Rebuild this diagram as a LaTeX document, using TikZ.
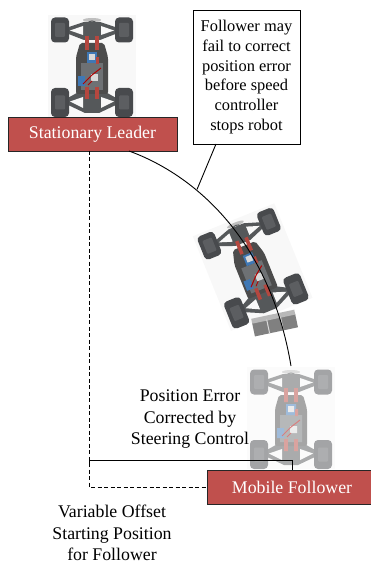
\documentclass[tikz,border=0pt]{standalone}
\usepackage{fontspec}
\setmainfont{Liberation Serif}
\definecolor{LabelRed}{HTML}{C0504D}
\definecolor{TyreGray}{HTML}{484A4D}
\definecolor{HubGray}{HTML}{5C5E61}
\definecolor{ArmGray}{HTML}{55585A}
\definecolor{ChassisGray}{HTML}{6E7174}
\definecolor{ShockRed}{HTML}{B5473F}
\definecolor{MotorBlue}{HTML}{3F78B5}
\definecolor{HaloGray}{HTML}{F8F8F8}
\usetikzlibrary{positioning}
\tikzset{
  % Box styles
  labelbox/.style={rectangle, draw=black!85, line width=0.9pt, fill=LabelRed, text=white, inner sep=0pt, font=\fontsize{17.8}{21}\selectfont, align=center},
  notebox/.style={rectangle, draw=black, line width=0.8pt, fill=white, inner sep=0pt, font=\fontsize{16.4}{19.8}\selectfont, align=center},
  plaintext/.style={inner sep=0pt, font=\fontsize{17.8}{21.5}\selectfont, align=center},
  % Line styles
  pathline/.style={black, line width=0.9pt},
  offsetline/.style={black, line width=1pt, dash pattern=on 4pt off 2.5pt},
  % Car drawn around its centre
  robotcar/.pic={
    \fill[HaloGray] (-44,-52) rectangle (44,50);
    % Axle arms
    \fill[ArmGray] (-26,-39) -- (-8,-45) -- (8,-45) -- (26,-39) -- (26,-34) -- (8,-27) -- (-8,-27) -- (-26,-34) -- cycle;
    \fill[ArmGray] (-26,32) -- (-8,22) -- (8,22) -- (26,32) -- (26,37) -- (7,46) -- (-7,46) -- (-26,37) -- cycle;
    \fill[HaloGray] (-22,-36.5) -- (-9,-41) -- (-9,-32) -- cycle (22,-36.5) -- (9,-41) -- (9,-32) -- cycle;
    \fill[HaloGray] (-22,34.5) -- (-9,30) -- (-9,41) -- cycle (22,34.5) -- (9,30) -- (9,41) -- cycle;
    % Nose
    \fill[black!25] (0,-47) ellipse (9 and 2);
    \draw[ArmGray, line width=1pt] (0,-43.5) ellipse (4 and 2.5);
    % Tyres
    \foreach \tx in {-32,32} {
      \foreach \ty/\th in {-37/12.5,35.5/14.5} {
        \fill[TyreGray, rounded corners=4pt] (\tx-9,\ty-\th) rectangle (\tx+9,\ty+\th);
        \fill[HubGray, rounded corners=1pt] (\tx-5,\ty-7) rectangle (\tx+5,\ty+7);
      }
    }
    % Chassis
    \fill[black!70, rounded corners=2pt] (-12,-24) -- (12,-24) -- (16,-10) -- (16,27) -- (-16,27) -- (-16,-10) -- cycle;
    \fill[ChassisGray] (-11,-4) rectangle (11,23);
    % Shocks
    \foreach \tx in {-5,5} {
      \fill[ShockRed] (\tx-1.8,-31) rectangle (\tx+1.8,-17);
      \fill[ShockRed] (\tx-1.8,20) rectangle (\tx+1.8,32);
    }
    % Motor and wiring
    \fill[MotorBlue] (-5,-15) rectangle (5,-4);
    \fill[white!85!black] (-3,-13) rectangle (3,-7);
    \fill[ShockRed] (4,-10) rectangle (7,-3);
    \fill[MotorBlue] (-14,9) rectangle (-7,19);
    \fill[white!85!black] (-1,7) rectangle (6,14);
    \draw[red!70!black, line width=1pt] (-9,17) -- (0,8) -- (9,1);
    \draw[red!70!black, line width=0.8pt] (-4,18) -- (0,14);
  }
}
\begin{document}
\begin{tikzpicture}[x=1pt, y=-1pt]
  \useasboundingbox (0,0) rectangle (371,564);

  % Cars
  \pic at (92,67) {robotcar};
  \pic[rotate=22] at (253,268) {robotcar};
  \begin{scope}[transparency group, opacity=0.5]
    \pic at (291,419) {robotcar};
  \end{scope}

  % Blocks behind the moving car
  \begin{scope}[shift={(275,325)}, rotate=12]
    \fill[black!50] (-22,-7) rectangle (22,7);
    \fill[black!28] (-22,-11) rectangle (22,-6);
    \fill[white!85!black] (-7.5,-7) rectangle (-6.5,7) (6.5,-7) rectangle (7.5,7);
  \end{scope}

  % Boxes
  \node[labelbox, minimum width=169pt, minimum height=34pt] (leaderbox) at (92.5,134) {Stationary Leader};
  \node[labelbox, minimum width=170pt, minimum height=34pt] (followerbox) at (292,487) {Mobile Follower};
  \node[notebox, minimum width=107pt, minimum height=134pt] (notebox) at (246.5,77) {Follower may\\fail to correct\\position error\\before speed\\controller\\stops robot};

  % Free ends of the lines
  \coordinate (pathstart) at (129,151);
  \coordinate (pathend) at (291,366);
  \coordinate (notefoot) at (197,189.5);
  \coordinate (notetop) at (216,144);
  \coordinate (offsettop) at (89,151);
  \coordinate (errorleft) at (89,467);
  \coordinate (errorright) at (292,470);

  % Steering path
  \draw[pathline] (pathstart) .. controls (195,175) and (270,240) .. (pathend);
  \draw[pathline] (notetop) -- (notefoot);

  % Offset and error
  \draw[offsetline] (offsettop) |- (followerbox.west);
  \draw[pathline] (errorleft) |- (292,460) -- (errorright);

  % Labels
  \node[plaintext] (errorlabel) at (190,419.5) {Position Error\\Corrected by\\Steering Control};
  \node[plaintext] (offsetlabel) at (112,533) {Variable Offset\\Starting Position\\for Follower};
\end{tikzpicture}
\end{document}
